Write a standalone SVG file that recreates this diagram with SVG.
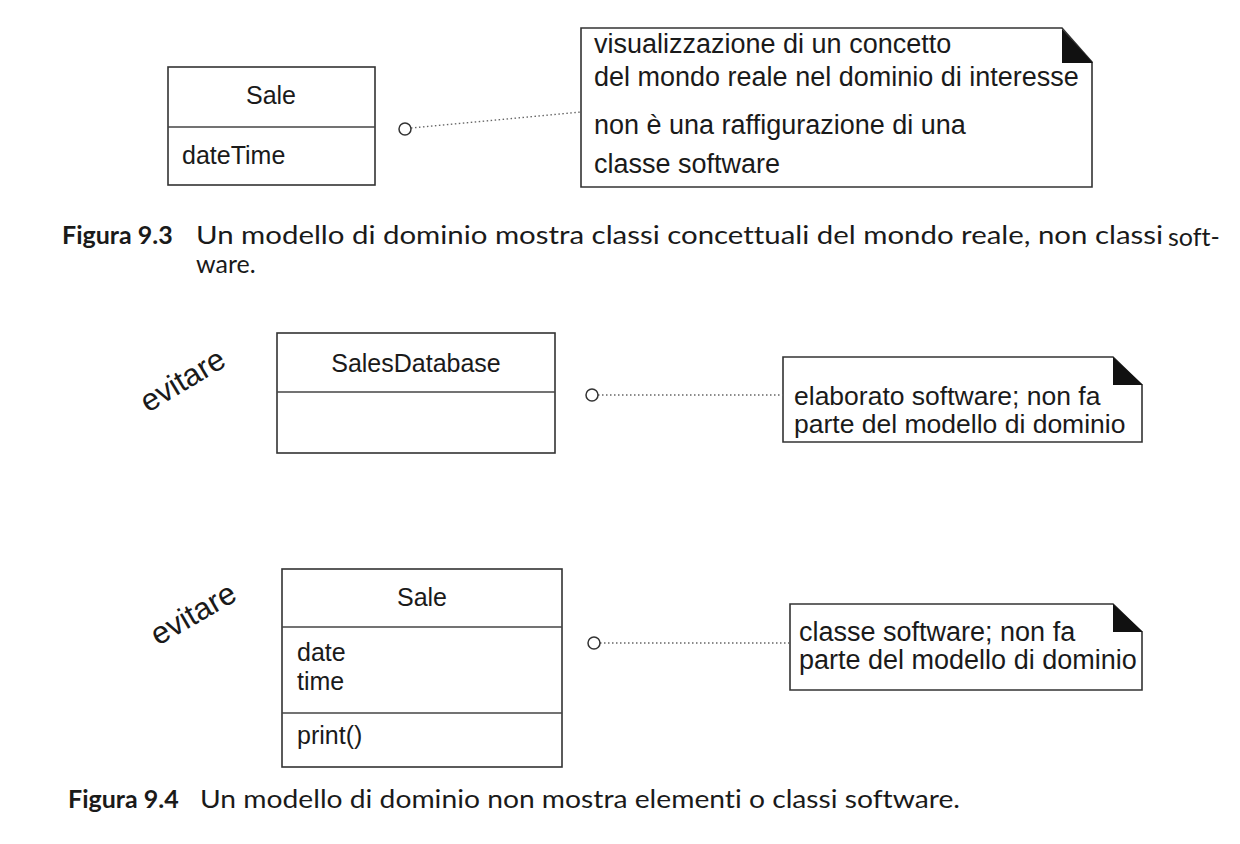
<svg xmlns="http://www.w3.org/2000/svg" width="1240" height="844" viewBox="0 0 1240 844">
<style>
.box{fill:#fff;stroke:#333;stroke-width:1.6}
.div{stroke:#444;stroke-width:1.4}
.t{font-family:"Liberation Sans",Arial,sans-serif;font-size:25px;fill:#1a1a1a}
.n{font-size:27px}
.n2{font-size:26.5px}
.c{text-anchor:middle}
.ear{fill:#111;stroke:none}
.conn{stroke:#666;stroke-width:1.3;stroke-dasharray:1.5 2.5;fill:none}
.knob{fill:#fff;stroke:#333;stroke-width:1.5}
.cap{font-family:Lato,"Open Sans",sans-serif;font-size:25px;fill:#1a1a1a;font-variant-ligatures:none}
.capb{font-family:Lato,"Open Sans",sans-serif;font-size:25px;font-weight:bold;fill:#1a1a1a;font-variant-ligatures:none}
.ev{font-family:"Liberation Sans",Arial,sans-serif;font-size:31px;fill:#1a1a1a}
</style>
<rect width="1240" height="844" fill="#fff"/>

<g id="sale1">
<rect class="box" x="168" y="67" width="207" height="118"/>
<line class="div" x1="168" y1="127" x2="375" y2="127"/>
<text class="t c" x="271" y="104">Sale</text>
<text class="t" x="182" y="164">dateTime</text>
</g>

<g id="note1">
<path class="box" d="M581 28 H1062 L1092 62 V187 H581 Z"/>
<path class="ear" d="M1062 29 V63 H1093 Z"/>
<text class="t n" x="594" y="53">visualizzazione di un concetto</text>
<text class="t n" x="594" y="86">del mondo reale nel dominio di interesse</text>
<text class="t n" x="594" y="134">non è una raffigurazione di una</text>
<text class="t n" x="594" y="173">classe software</text>
</g>

<g id="caption1">
<text class="capb" x="62" y="244">Figura 9.3</text>
<text class="cap" x="196" y="244" textLength="967" lengthAdjust="spacingAndGlyphs">Un modello di dominio mostra classi concettuali del mondo reale, non classi</text>
<text class="cap" x="1168" y="246" font-size="18">soft-</text>
<text class="cap" x="196" y="273">ware.</text>
</g>

<g id="evitare1">
<text class="ev" transform="translate(148,413) rotate(-31)">evitare</text>
</g>

<g id="salesdb">
<rect class="box" x="277" y="333" width="278" height="120"/>
<line class="div" x1="277" y1="392" x2="555" y2="392"/>
<text class="t c" x="416" y="372">SalesDatabase</text>
</g>

<g id="note2">
<path class="box" d="M783 357 H1113 L1142 385 V442 H783 Z"/>
<path class="ear" d="M1113 357 V385 H1143 Z"/>
<text class="t n2" x="794" y="405">elaborato software; non fa</text>
<text class="t n2" x="794" y="433">parte del modello di dominio</text>
</g>

<g id="evitare2">
<text class="ev" transform="translate(158,646) rotate(-30)">evitare</text>
</g>

<g id="sale2">
<rect class="box" x="282" y="569" width="280" height="198"/>
<line class="div" x1="282" y1="627" x2="562" y2="627"/>
<line class="div" x1="282" y1="713" x2="562" y2="713"/>
<text class="t c" x="422" y="606">Sale</text>
<text class="t" x="297" y="661">date</text>
<text class="t" x="297" y="690">time</text>
<text class="t" x="297" y="744">print()</text>
</g>

<g id="note3">
<path class="box" d="M790 604 H1113 L1142 632 V690 H790 Z"/>
<path class="ear" d="M1113 604 V632 H1143 Z"/>
<text class="t n" x="799" y="641">classe software; non fa</text>
<text class="t n" x="799" y="669">parte del modello di dominio</text>
</g>

<g id="caption2">
<text class="capb" x="68" y="808">Figura 9.4</text>
<text class="cap" x="200" y="808" textLength="760" lengthAdjust="spacingAndGlyphs">Un modello di dominio non mostra elementi o classi software.</text>
</g>

<g id="connectors">
<line class="conn" x1="411" y1="128" x2="581" y2="112"/>
<line class="conn" x1="598" y1="395" x2="783" y2="395"/>
<line class="conn" x1="600" y1="643" x2="790" y2="643"/>
<circle class="knob" cx="405" cy="129" r="6"/>
<circle class="knob" cx="592" cy="395" r="6"/>
<circle class="knob" cx="594" cy="643" r="6"/>
</g>
</svg>
